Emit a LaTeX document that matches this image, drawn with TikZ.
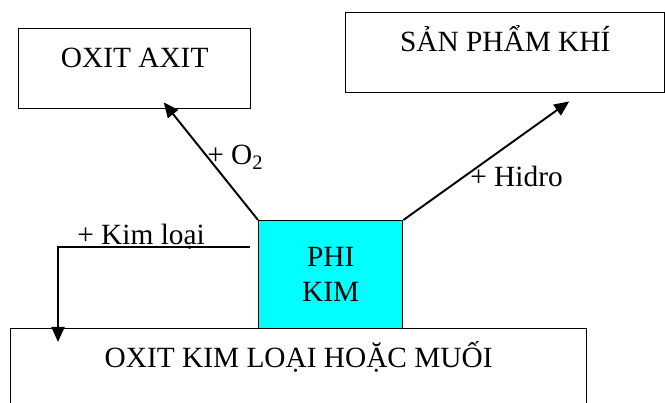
\documentclass[tikz,border=0pt]{standalone}
\usepackage{fontspec}
\setmainfont{Liberation Serif}
\usetikzlibrary{arrows.meta, positioning}
\definecolor{aqua}{RGB}{0,255,255}

\begin{document}
\begin{tikzpicture}[
    font=\fontsize{16.7}{19.9}\selectfont,
    box/.style={rectangle, draw, line width=0.8pt, inner sep=0pt, text height=0.78cm, text depth=0.82cm, anchor=north west},
    core/.style={rectangle, draw, line width=0.8pt, fill=aqua, align=center, minimum width=2.88cm, minimum height=2.16cm, anchor=north west},
    arrow/.style={-{Triangle[length=0.3cm, width=0.26cm]}, line width=1.1pt},
    lbl/.style={anchor=base west, inner sep=0pt}
]
    \useasboundingbox (0,0) rectangle (13.3,8.06);

    % Products
    \node[box, minimum width=4.64cm] (oxitaxit) at (0.36,7.5) {OXIT AXIT};
    \node[box, minimum width=6.38cm] (sanpham) at (6.9,7.82) {SẢN PHẨM KHÍ};

    % Non-metal
    \node[core] (phikim) at (5.16,3.66) {PHI\\KIM};

    % Metal oxide / salt
    \node[box, minimum width=11.52cm] (muoi) at (0.2,1.5) {OXIT KIM LOẠI HOẶC MUỐI};

    % Arrows
    \draw[arrow] (phikim.north west) -- ([xshift=0.58cm, yshift=0.14cm]oxitaxit.south);
    \draw[arrow] (phikim.north east) -- ([xshift=1.28cm, yshift=-0.16cm]sanpham.south);
    \draw[arrow] ([xshift=-0.16cm, yshift=-0.54cm]phikim.north west) -| ([xshift=0.96cm, yshift=-0.28cm]muoi.north west);

    % Labels
    \node[lbl] (lblo) at (4.14,4.76) {+ O\textsubscript{2}};
    \node[lbl] (lblh) at (9.4,4.32) {+ Hidro};
    \node[lbl] (lblk) at (1.54,3.16) {+ Kim loại};
\end{tikzpicture}
\end{document}
